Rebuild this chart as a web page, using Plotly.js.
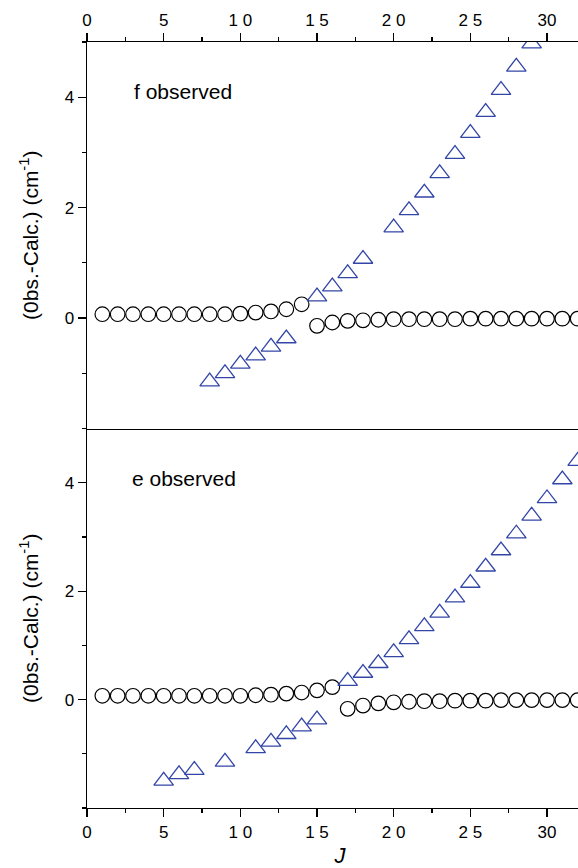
<!DOCTYPE html>
<html>
<head>
<meta charset="utf-8">
<script src="https://cdn.plot.ly/plotly-3.0.1.min.js"></script>
<style>
html, body { margin: 0; padding: 0; overflow: hidden; background: #fff; }
#chart { width: 600px; height: 868px; }
</style>
</head>
<body>
<div id="chart"></div>
<script>
// J values
const J_circ = [1,2,3,4,5,6,7,8,9,10,11,12,13,14,15,16,17,18,19,20,21,22,23,24,25,26,27,28,29,30,31,32];
// f panel
const f_circ = [0.07,0.07,0.07,0.07,0.07,0.07,0.07,0.07,0.07,0.08,0.10,0.12,0.16,0.25,
                -0.14,-0.08,-0.05,-0.04,-0.03,-0.02,-0.02,-0.02,-0.02,-0.02,-0.01,-0.01,-0.01,-0.01,-0.01,-0.01,-0.01,-0.01];
const J_f_tri = [8,9,10,11,12,13,15,16,17,18,20,21,22,23,24,25,26,27,28,29];
const f_tri = [-1.15,-1.00,-0.83,-0.68,-0.52,-0.37,0.39,0.57,0.81,1.07,1.64,1.95,2.27,2.62,2.97,3.35,3.73,4.13,4.55,4.97];
// e panel
const e_circ = [0.07,0.07,0.07,0.07,0.07,0.07,0.07,0.07,0.07,0.07,0.08,0.09,0.11,0.13,0.17,0.23,
                -0.17,-0.11,-0.07,-0.05,-0.04,-0.03,-0.03,-0.02,-0.02,-0.02,-0.01,-0.01,-0.01,-0.01,-0.01,-0.01];
const J_e_tri = [5,6,7,9,11,12,13,14,15,17,18,19,20,21,22,23,24,25,26,27,28,29,30,31,32];
const e_tri = [-1.50,-1.38,-1.30,-1.15,-0.90,-0.78,-0.64,-0.50,-0.37,0.34,0.49,0.67,0.87,1.11,1.35,1.60,1.88,2.15,2.45,2.75,3.06,3.39,3.71,4.06,4.40];

const xTickVals = [0,5,10,15,20,25,30];
const xTickText = ['0','5','1 0','1 5','2 0','2 5','30'];
const yTickVals = [0,2,4];
const yTickText = ['0','2','4'];

const FONT = 'Liberation Sans, Arial, sans-serif';
const BLUE = '#3346a8';

const circMarker = {symbol:'circle-open', size:14.6, color:'#000', line:{width:1.2, color:'#000'}};
const triMarker = {symbol:'triangle-up-open', size:17, color:BLUE, line:{width:1.3, color:BLUE}};

const traces = [
  {x:J_circ, y:f_circ, xaxis:'x2', yaxis:'y2', mode:'markers', type:'scatter', marker:circMarker, showlegend:false},
  {x:J_f_tri, y:f_tri, xaxis:'x2', yaxis:'y2', mode:'markers', type:'scatter', marker:triMarker, showlegend:false},
  {x:J_circ, y:e_circ, xaxis:'x', yaxis:'y', mode:'markers', type:'scatter', marker:circMarker, showlegend:false},
  {x:J_e_tri, y:e_tri, xaxis:'x', yaxis:'y', mode:'markers', type:'scatter', marker:triMarker, showlegend:false}
];

const splitFrac = 0.4954;
const axisCommon = {
  showline:true, linecolor:'#000', linewidth:1.3, mirror:true,
  showgrid:false, zeroline:false, ticks:'outside', ticklen:8, tickwidth:1.2, tickcolor:'#000',
  tickfont:{family:FONT, size:17, color:'#000'}
};

const yTitle = {text:'(0bs.-Calc.) (cm<sup>-1</sup>)', font:{family:FONT, size:21, color:'#000'}, standoff:20};

const layout = {
  width:600, height:868,
  margin:{l:87, r:7, t:42, b:60},
  paper_bgcolor:'#fff', plot_bgcolor:'#fff',
  font:{family:FONT, color:'#000'},
  xaxis: Object.assign({}, axisCommon, {
    domain:[0,1], anchor:'y', range:[0,33], side:'bottom', mirror:false,
    tickmode:'array', tickvals:xTickVals, ticktext:xTickText,
    minor:{ticks:'outside', dtick:2.5, tick0:0, ticklen:4, tickwidth:1.2, tickcolor:'#000'},
    title:{text:'<i>J</i>', font:{family:FONT, size:22, color:'#000'}, standoff:14}
  }),
  yaxis: Object.assign({}, axisCommon, {
    domain:[0, splitFrac], anchor:'x', range:[-2,5],
    tickmode:'array', tickvals:yTickVals, ticktext:yTickText,
    minor:{ticks:'outside', dtick:1, tick0:0, ticklen:4, tickwidth:1.2, tickcolor:'#000'},
    title:yTitle
  }),
  xaxis2: Object.assign({}, axisCommon, {
    domain:[0,1], anchor:'y2', range:[0,33], side:'top', matches:'x',
    tickmode:'array', tickvals:xTickVals, ticktext:xTickText,
    minor:{ticks:'outside', dtick:2.5, tick0:0, ticklen:4, tickwidth:1.2, tickcolor:'#000'}
  }),
  yaxis2: Object.assign({}, axisCommon, {
    domain:[splitFrac, 1], anchor:'x2', range:[-2,5],
    tickmode:'array', tickvals:yTickVals, ticktext:yTickText,
    minor:{ticks:'outside', dtick:1, tick0:0, ticklen:4, tickwidth:1.2, tickcolor:'#000'},
    title:yTitle
  }),
  annotations:[
    {text:'f observed', xref:'x2 domain', yref:'y2 domain', x:0.088, y:0.871, xanchor:'left', yanchor:'middle', showarrow:false, font:{family:FONT, size:21, color:'#000'}},
    {text:'e observed', xref:'x domain', yref:'y domain', x:0.084, y:0.867, xanchor:'left', yanchor:'middle', showarrow:false, font:{family:FONT, size:21, color:'#000'}}
  ]
};

Plotly.newPlot('chart', traces, layout, {displayModeBar:false, staticPlot:true});
</script>
</body>
</html>
